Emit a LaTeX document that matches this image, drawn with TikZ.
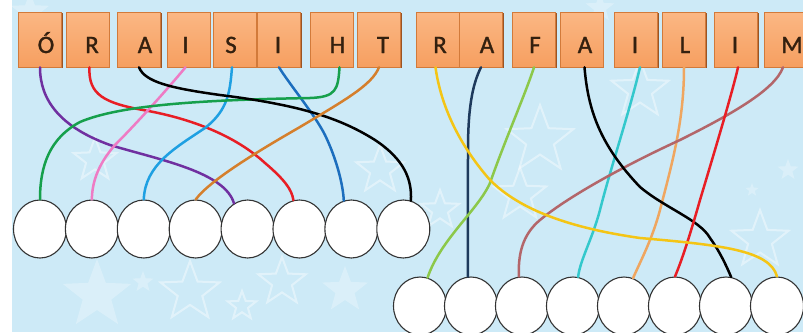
\documentclass[tikz,border=0pt]{standalone}
\usepackage{fontspec}
\setmainfont{Carlito}
\newfontfamily\lettfont{Carlito}[FakeBold=1.2]
\usetikzlibrary{shapes.geometric,shadows}
\definecolor{bgc}{HTML}{CDEAF7}
\definecolor{boxtop}{HTML}{FBB784}
\definecolor{boxbot}{HTML}{F69F60}
\definecolor{boxedge}{HTML}{D27A3A}
\definecolor{boxshadow}{HTML}{9A5424}
\definecolor{letterc}{HTML}{33200F}
\definecolor{cpurple}{HTML}{7030A0}
\definecolor{cred}{HTML}{E81E25}
\definecolor{cpink}{HTML}{EE7BC4}
\definecolor{csky}{HTML}{1EA0E2}
\definecolor{cblue}{HTML}{1C6EBE}
\definecolor{cgreen}{HTML}{16A04C}
\definecolor{corange}{HTML}{D57F2C}
\definecolor{cyellow}{HTML}{F4C515}
\definecolor{cnavy}{HTML}{1E3A5C}
\definecolor{clgreen}{HTML}{8CC84A}
\definecolor{ccyan}{HTML}{33C8CC}
\definecolor{ctan}{HTML}{EFA660}
\definecolor{crose}{HTML}{B3666A}
\begin{document}
\begin{tikzpicture}[x=1pt,y=-1pt,
  box/.style={rectangle, minimum width=43pt, minimum height=55pt, inner sep=0pt,
    top color=boxtop, bottom color=boxbot, draw=boxedge, line width=0.6pt,
    general shadow={fill=boxshadow, shadow xshift=1.4pt, shadow yshift=-1.4pt}},
  letter/.style={anchor=base, inner sep=0pt, text=letterc, font=\lettfont\fontsize{25}{25}\selectfont},
  ring/.style={ellipse, minimum width=53pt, minimum height=58pt, inner sep=0pt,
    draw=black!80, line width=1.1pt, fill=white},
  wire/.style={line width=2.5pt, line cap=round},
  starf/.style={star, star points=5, star point ratio=2.4, inner sep=0pt, fill=white, fill opacity=0.28, draw=none},
  staro/.style={star, star points=5, star point ratio=2.4, inner sep=0pt, draw=white, draw opacity=0.42, line width=2pt}
]
\useasboundingbox (0,0) rectangle (803,332);
\clip (0,0) rectangle (803,332);
\fill[bgc] (0,0) rectangle (803,332);
\fill[white] (0,0) rectangle (12,332);
% background stars
\node[starf, minimum size=72pt] (s1) at (97,295) {};
\node[staro, minimum size=62pt] (s2) at (190,292) {};
\node[staro, minimum size=50pt] (s3) at (282,282) {};
\node[starf, minimum size=22pt] (s4) at (143,282) {};
\node[starf, minimum size=48pt] (s5) at (345,290) {};
\node[staro, minimum size=30pt] (s6) at (242,306) {};
\node[staro, minimum size=70pt] (s7) at (540,140) {};
\node[staro, minimum size=55pt] (s8) at (520,195) {};
\node[starf, minimum size=22pt] (s9) at (788,170) {};
\node[starf, minimum size=14pt] (s10) at (752,190) {};
\node[staro, minimum size=60pt] (s11) at (760,240) {};
\node[staro, minimum size=50pt] (s12) at (380,170) {};
\node[staro, minimum size=45pt] (s13) at (95,160) {};
\node[starf, minimum size=40pt] (s14) at (30,12) {};
\node[staro, minimum size=60pt] (s15) at (640,90) {};
\node[starf, minimum size=30pt] (s16) at (600,8) {};
\node[staro, minimum size=40pt] (s17) at (440,210) {};
% boxes
\node[box] (b1) at (40,39.5) {};
\node[box] (b2) at (87.5,39.5) {};
\node[box] (b3) at (139,39.5) {};
\node[box] (b4) at (188.5,39.5) {};
\node[box] (b5) at (235,39.5) {};
\node[box] (b6) at (279,39.5) {};
\node[box] (b7) at (331.5,39.5) {};
\node[box] (b8) at (379,39.5) {};
\node[box] (b9) at (437.5,39.5) {};
\node[box] (b10) at (481,39.5) {};
\node[box] (b11) at (534,39.5) {};
\node[box] (b12) at (581.5,39.5) {};
\node[box] (b13) at (636,39.5) {};
\node[box] (b14) at (684,39.5) {};
\node[box] (b15) at (736,39.5) {};
\node[box] (b16) at (786,39.5) {};
\node[letter] (l1) at (46,53) {Ó};
\node[letter] (l2) at (92,53) {R};
\node[letter] (l3) at (145,53) {A};
\node[letter] (l4) at (185.5,53) {I};
\node[letter] (l5) at (231,53) {S};
\node[letter] (l6) at (278,53) {I};
\node[letter] (l7) at (337.5,53) {H};
\node[letter] (l8) at (383,53) {T};
\node[letter] (l9) at (440,53) {R};
\node[letter] (l10) at (487,53) {A};
\node[letter] (l11) at (535,53) {F};
\node[letter] (l12) at (585,53) {A};
\node[letter] (l13) at (635,53) {I};
\node[letter] (l14) at (685,53) {L};
\node[letter] (l15) at (735,53) {I};
\node[letter] (l16) at (792,53) {M};
% circles
\foreach \i in {1,...,8} {\node[ring] (c\i) at ({40+51.9*(\i-1)},229) {};}
\foreach \i in {1,...,8} {\node[ring] (d\i) at ({420+51*(\i-1)},306) {};}
% left group wires
\draw[wire, cpurple] (b1.south) .. controls (40,100) and (60,127) .. (110,145) .. controls (160,160) and (225,172) .. (c5.118);
\draw[wire, cred] ([xshift=2pt]b2.south) .. controls (88,95) and (105,103) .. (143,110) .. controls (200,120) and (240,140) .. (265,163) .. controls (285,180) and (292,190) .. (c6.102);
\draw[wire, cpink] ([xshift=-3pt]b4.south) .. controls (165,92) and (135,125) .. (115,145) .. controls (100,162) and (92,180) .. (c2.north);
\draw[wire, csky] ([xshift=-3pt]b5.south) .. controls (230,92) and (228,110) .. (205,128) .. controls (175,148) and (145,165) .. (c3.north);
\draw[wire, cblue] (b6.south) .. controls (290,85) and (315,115) .. (325,135) .. controls (337,160) and (343,185) .. (c7.105);
\draw[wire, cgreen] ([xshift=8pt]b7.south) .. controls (338,90) and (336,97) .. (310,98) .. controls (200,100) and (120,105) .. (80,122) .. controls (50,138) and (40,165) .. (c1.north);
\draw[wire, black] (b3.south) .. controls (145,82) and (170,88) .. (220,95) .. controls (300,105) and (340,118) .. (375,140) .. controls (405,160) and (412,180) .. (c8.75);
\draw[wire, corange] (b8.south) .. controls (372,85) and (345,100) .. (300,127) .. controls (260,150) and (210,180) .. (c4.north);
% right group wires
\draw[wire, cnavy] (b10.south) .. controls (472,85) and (468,110) .. (468,150) -- (d2.96);
\draw[wire, clgreen] (b11.south) .. controls (525,95) and (505,140) .. (490,183) .. controls (478,210) and (440,240) .. (d1.75);
\draw[wire, ccyan] ([xshift=4pt]b13.south) .. controls (630,110) and (610,170) .. (600,210) .. controls (592,240) and (580,260) .. (d4.80);
\draw[wire, ctan] (b14.south) .. controls (684,120) and (673,160) .. (660,210) .. controls (652,240) and (640,262) .. (d5.72);
\draw[wire, crose] ([xshift=-3pt]b16.south) .. controls (775,90) and (730,115) .. (680,140) .. controls (630,163) and (570,195) .. (540,220) .. controls (522,235) and (518,255) .. (d3.96);
\draw[wire, black] ([xshift=3pt]b12.south) .. controls (588,110) and (600,145) .. (640,187) .. controls (665,208) and (700,220) .. (710,238) .. controls (720,252) and (726,265) .. (d7.80);
\draw[wire, cred] ([xshift=2pt]b15.south) .. controls (733,90) and (715,150) .. (700,200) .. controls (690,235) and (682,260) .. (d6.north);
\draw[wire, cyellow] ([xshift=-2pt]b9.south) .. controls (440,100) and (455,140) .. (490,180) .. controls (520,210) and (570,228) .. (640,238) .. controls (720,245) and (770,250) .. (d8.north);
\end{tikzpicture}
\end{document}
